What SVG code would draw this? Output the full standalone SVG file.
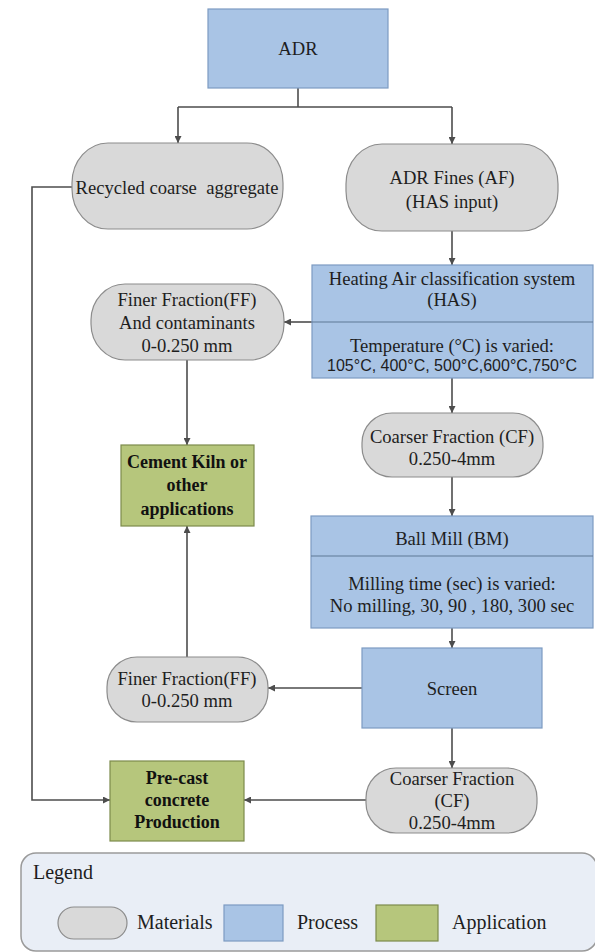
<svg xmlns="http://www.w3.org/2000/svg" width="595" height="952" viewBox="0 0 595 952">
<style>
.bg{fill:#ffffff}
.proc{fill:#a9c4e5;stroke:#7d9bc2;stroke-width:1.2}
.div{stroke:#5f7896;stroke-width:1.2}
.mat{fill:#d9d9d9;stroke:#8c8c8c;stroke-width:1.2}
.app{fill:#b6c67c;stroke:#7c8b4c;stroke-width:1.2}
.leg{fill:#e9eef6;stroke:#9a9a9a;stroke-width:1.5}
.t{font-family:"Liberation Serif","Times New Roman",serif;font-size:18.6px;fill:#1e1e1e;text-anchor:middle;dominant-baseline:central}
.tb{font-family:"Liberation Serif","Times New Roman",serif;font-size:18px;font-weight:bold;fill:#111;text-anchor:middle;dominant-baseline:central}
.ts{font-family:"Liberation Sans",Arial,sans-serif;font-size:16px;fill:#1e1e1e;text-anchor:middle;dominant-baseline:central}
.tl{font-family:"Liberation Serif","Times New Roman",serif;font-size:20px;fill:#1e1e1e;dominant-baseline:central}
.c{fill:none;stroke:#4d4d4d;stroke-width:1.6}
</style>
<defs>
<marker id="ah" viewBox="0 0 10 10" refX="10" refY="5" markerWidth="7" markerHeight="7" orient="auto" markerUnits="userSpaceOnUse">
<path d="M0,0 L10,5 L0,10 z" fill="#4d4d4d"/>
</marker>
</defs>
<rect class="bg" x="0" y="0" width="595" height="952"/>

<g id="connectors">
<path class="c" d="M298,88 V107"/>
<path class="c" d="M178,107 H452"/>
<path class="c" d="M178,107 V143" marker-end="url(#ah)"/>
<path class="c" d="M452,107 V144" marker-end="url(#ah)"/>
<path class="c" d="M452,231 V265" marker-end="url(#ah)"/>
<path class="c" d="M312,322 H284" marker-end="url(#ah)"/>
<path class="c" d="M187,360 V445" marker-end="url(#ah)"/>
<path class="c" d="M452,378 V413" marker-end="url(#ah)"/>
<path class="c" d="M452,477 V516" marker-end="url(#ah)"/>
<path class="c" d="M452,628 V648" marker-end="url(#ah)"/>
<path class="c" d="M362,688 H268" marker-end="url(#ah)"/>
<path class="c" d="M187,657 V526" marker-end="url(#ah)"/>
<path class="c" d="M452,728 V768" marker-end="url(#ah)"/>
<path class="c" d="M366,800 H244" marker-end="url(#ah)"/>
<path class="c" d="M72,187 H32 V800 H110" marker-end="url(#ah)"/>
</g>

<g id="adr">
<rect class="proc" x="208" y="9" width="180" height="79"/>
<text class="t" x="298" y="48">ADR</text>
</g>

<g id="recycled">
<rect class="mat" x="72" y="143" width="211" height="86" rx="36" ry="40"/>
<text class="t" x="177" y="187" xml:space="preserve">Recycled coarse  aggregate</text>
</g>

<g id="adr-fines">
<rect class="mat" x="346" y="144" width="212" height="87" rx="36" ry="40"/>
<text class="t" x="452" y="177">ADR Fines (AF)</text>
<text class="t" x="452" y="201">(HAS input)</text>
</g>

<g id="has">
<rect class="proc" x="312" y="265" width="281" height="113"/>
<line class="div" x1="312" y1="322" x2="593" y2="322"/>
<text class="t" x="452" y="278">Heating Air classification system</text>
<text class="t" x="452" y="299">(HAS)</text>
<text class="t" x="452" y="345">Temperature (°C) is varied:</text>
<text class="ts" x="452" y="365">105°C, 400°C, 500°C,600°C,750°C</text>
</g>

<g id="ff1">
<rect class="mat" x="91" y="284" width="193" height="76" rx="34" ry="36"/>
<text class="t" x="187" y="299">Finer Fraction(FF)</text>
<text class="t" x="187" y="322">And contaminants</text>
<text class="t" x="187" y="345">0-0.250 mm</text>
</g>

<g id="cement-kiln">
<rect class="app" x="121" y="445" width="133" height="81"/>
<text class="tb" x="187" y="462">Cement Kiln or</text>
<text class="tb" x="187" y="485">other</text>
<text class="tb" x="187" y="509">applications</text>
</g>

<g id="cf1">
<rect class="mat" x="362" y="413" width="181" height="64" rx="30" ry="30"/>
<text class="t" x="452" y="436">Coarser Fraction (CF)</text>
<text class="t" x="452" y="458">0.250-4mm</text>
</g>

<g id="ball-mill">
<rect class="proc" x="311" y="516" width="282" height="112"/>
<line class="div" x1="311" y1="556" x2="593" y2="556"/>
<text class="t" x="452" y="538">Ball Mill (BM)</text>
<text class="t" x="452" y="583">Milling time (sec) is varied:</text>
<text class="t" x="452" y="605">No milling, 30, 90 , 180, 300 sec</text>
</g>

<g id="screen">
<rect class="proc" x="362" y="648" width="180" height="80"/>
<text class="t" x="452" y="688">Screen</text>
</g>

<g id="ff2">
<rect class="mat" x="107" y="657" width="161" height="65" rx="30" ry="30"/>
<text class="t" x="187" y="678">Finer Fraction(FF)</text>
<text class="t" x="187" y="700">0-0.250 mm</text>
</g>

<g id="cf2">
<rect class="mat" x="366" y="768" width="171" height="65" rx="30" ry="30"/>
<text class="t" x="452" y="778">Coarser Fraction</text>
<text class="t" x="452" y="800">(CF)</text>
<text class="t" x="452" y="822">0.250-4mm</text>
</g>

<g id="precast">
<rect class="app" x="110" y="761" width="134" height="80"/>
<text class="tb" x="177" y="778">Pre-cast</text>
<text class="tb" x="177" y="800">concrete</text>
<text class="tb" x="177" y="822">Production</text>
</g>

<g id="legend">
<rect class="leg" x="21" y="853" width="576" height="98" rx="15" ry="15"/>
<text class="tl" x="33" y="872">Legend</text>
<rect class="mat" x="58" y="907" width="69" height="32" rx="16" ry="16"/>
<text class="tl" x="137" y="922">Materials</text>
<rect class="proc" x="224" y="905" width="59" height="36"/>
<text class="tl" x="297" y="922">Process</text>
<rect class="app" x="376" y="905" width="62" height="36"/>
<text class="tl" x="452" y="922">Application</text>
</g>
</svg>
